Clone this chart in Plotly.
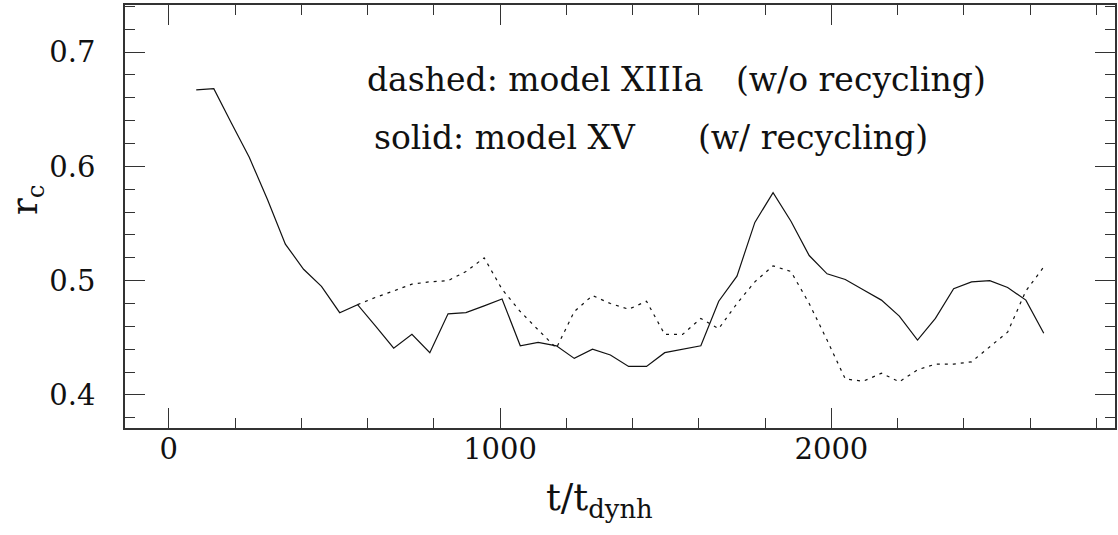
import plotly.graph_objects as go

# Time axis samples (t / t_dynh)
t_solid = [83, 136, 189, 243, 298, 352, 407, 461, 516, 570,
           625, 679, 734, 788, 843, 897, 952, 1006, 1061, 1115,
           1170, 1224, 1279, 1333, 1388, 1442, 1497, 1551, 1606, 1660,
           1715, 1769, 1824, 1878, 1933, 1987, 2042, 2096, 2151, 2205,
           2260, 2314, 2369, 2423, 2478, 2532, 2587, 2641]

# model XV (with recycling)
rc_xv = [0.667, 0.668, 0.638, 0.608, 0.571, 0.532, 0.510, 0.495, 0.472, 0.479,
         0.460, 0.441, 0.453, 0.437, 0.471, 0.472, 0.478, 0.484, 0.443, 0.446,
         0.443, 0.432, 0.440, 0.435, 0.425, 0.425, 0.437, 0.440, 0.443, 0.482,
         0.504, 0.551, 0.577, 0.552, 0.522, 0.506, 0.501, 0.492, 0.483, 0.469,
         0.448, 0.467, 0.493, 0.499, 0.500, 0.494, 0.483, 0.454]

t_dashed = [570, 625, 679, 734, 788, 843, 897, 952, 1006, 1061,
            1115, 1170, 1224, 1279, 1333, 1388, 1442, 1497, 1551, 1606,
            1660, 1715, 1769, 1824, 1878, 1933, 1987, 2042, 2096, 2151,
            2205, 2260, 2314, 2369, 2423, 2478, 2532, 2587, 2641]

# model XIIIa (without recycling)
rc_xiiia = [0.479, 0.4855, 0.491, 0.497, 0.499, 0.500, 0.508, 0.520, 0.4925, 0.473,
            0.457, 0.441, 0.473, 0.487, 0.480, 0.475, 0.482, 0.453, 0.453, 0.467,
            0.458, 0.480, 0.499, 0.513, 0.508, 0.480, 0.448, 0.414, 0.412, 0.419,
            0.4115, 0.422, 0.427, 0.427, 0.429, 0.442, 0.455, 0.491, 0.512]

x_ticks = [0, 1000, 2000]
y_ticks = [0.4, 0.5, 0.6, 0.7]

FONT = "DejaVu Serif"
INK = "#111111"
AXC = "#333333"

fig = go.Figure()
fig.add_trace(go.Scatter(x=t_solid, y=rc_xv, mode="lines",
                         line=dict(color=INK, width=1.2), showlegend=False))
fig.add_trace(go.Scatter(x=t_dashed, y=rc_xiiia, mode="lines",
                         line=dict(color=INK, width=1.2, dash="3px,5px"),
                         showlegend=False))

# in-plot key, each phrase pinned in data coordinates
key_font = dict(family=FONT, size=33, color=INK)
for x, y, anchor, txt in [
    (593, 0.6756, "left", "dashed: model XIIIa"),
    (2473, 0.6756, "right", "(w/o recycling)"),
    (614, 0.6257, "left", "solid: model XV"),
    (2298, 0.6257, "right", "(w/ recycling)"),
]:
    fig.add_annotation(x=x, y=y, xref="x", yref="y", xanchor=anchor, yanchor="middle",
                       text=txt, showarrow=False, font=key_font)

# axis titles
fig.add_annotation(x=0.479, y=-0.17, xref="paper", yref="paper", xanchor="center",
                   yanchor="middle", text="t/t<sub>dynh</sub>", showarrow=False,
                   font=dict(family=FONT, size=37, color=INK))
fig.add_annotation(x=-0.099, y=0.539, xref="paper", yref="paper", xanchor="center",
                   yanchor="middle", text="r<sub>c</sub>", textangle=-90, showarrow=False,
                   font=dict(family=FONT, size=35, color=INK))

axis_common = dict(
    showgrid=False, zeroline=False, showline=True, linecolor=AXC, linewidth=1.5,
    mirror="allticks", ticks="inside", tickcolor=AXC, tickwidth=1.3, ticklen=20,
    tickfont=dict(family=FONT, size=29, color=INK),
)

fig.update_xaxes(range=[-132, 2856], tickvals=x_ticks, ticktext=[str(v) for v in x_ticks],
                 minor=dict(dtick=200, tick0=0, ticks="inside", ticklen=10,
                            tickcolor=AXC, tickwidth=1.3),
                 ticklabelstandoff=-6,
                 **axis_common)
fig.update_yaxes(range=[0.3711, 0.7412], tickvals=y_ticks, ticktext=["0.4", "0.5", "0.6", "0.7"],
                 minor=dict(dtick=0.02, tick0=0.4, ticks="inside", ticklen=10,
                            tickcolor=AXC, tickwidth=1.3),
                 ticklabelstandoff=22,
                 **axis_common)

fig.update_layout(width=1118, height=535, margin=dict(l=125, r=1, t=5, b=107),
                  paper_bgcolor="white", plot_bgcolor="white")

fig.write_html("out.html")
